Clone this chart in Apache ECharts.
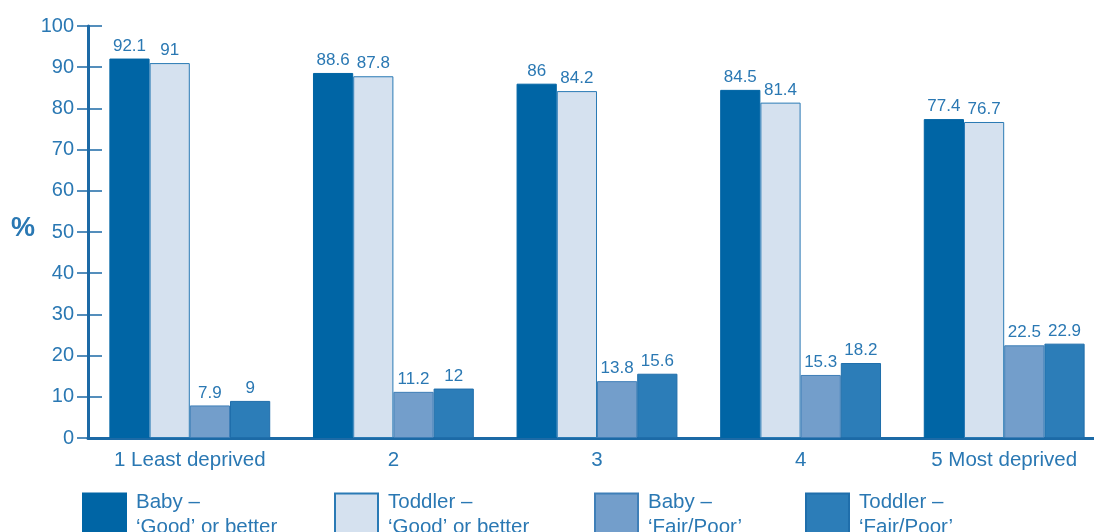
<!DOCTYPE html>
<html>
<head>
<meta charset="utf-8">
<script src="https://cdn.jsdelivr.net/npm/echarts@6/dist/echarts.min.js"></script>
<style>
html, body { margin: 0; padding: 0; background: #fff; }
#main { width: 1094px; height: 532px; }
</style>
</head>
<body>
<div id="main"></div>
<script>
var categories = ['1 Least deprived', '2', '3', '4', '5 Most deprived'];
var babyGood = [92.1, 88.6, 86, 84.5, 77.4];
var toddlerGood = [91, 87.8, 84.2, 81.4, 76.7];
var babyFair = [7.9, 11.2, 13.8, 15.3, 22.5];
var toddlerFair = [9, 12, 15.6, 18.2, 22.9];
var seriesNames = ['Baby –\n‘Good’ or better', 'Toddler –\n‘Good’ or better', 'Baby –\n‘Fair/Poor’', 'Toddler –\n‘Fair/Poor’'];

var txt = '#2a78b3';
var axisCol = '#1c6aa6';
var font = 'Liberation Sans, Arial, sans-serif';

var myChart = echarts.init(document.getElementById('main'));

function bar(name, data, fill, border) {
    return {
        name: name,
        type: 'bar',
        data: data,
        barGap: '0%',
        barCategoryGap: '21%',
        itemStyle: { color: fill, borderColor: border, borderWidth: 1 },
        label: {
            show: true,
            position: 'top',
            distance: 4,
            color: txt,
            fontSize: 17,
            fontFamily: font
        }
    };
}

function legendAt(name, left) {
    return {
        data: [name],
        left: left,
        top: 490,
        padding: 0,
        itemWidth: 43,
        itemHeight: 43,
        itemGap: 0,
        selectedMode: false,
        textStyle: { color: txt, fontSize: 20.5, fontFamily: font, lineHeight: 25, padding: [0, 0, 0, 5] },
        icon: 'rect'
    };
}

myChart.setOption({
    animation: false,
    grid: { left: 88, top: 26, width: 1018, bottom: 94, outerBoundsMode: 'none' },
    legend: [
        legendAt(seriesNames[0], 82),
        legendAt(seriesNames[1], 334),
        legendAt(seriesNames[2], 594),
        legendAt(seriesNames[3], 805)
    ],
    graphic: [{
        type: 'text',
        left: 11,
        top: 215,
        style: { text: '%', fill: txt, fontSize: 27, fontWeight: 'bold', fontFamily: font }
    }],
    xAxis: {
        type: 'category',
        data: categories,
        axisLine: { lineStyle: { color: axisCol, width: 3 } },
        axisTick: { inside: true, length: 12, lineStyle: { color: axisCol, width: 1.5 } },
        axisLabel: { color: txt, fontSize: 20.5, fontFamily: font, margin: 12 }
    },
    yAxis: [{
        type: 'value',
        min: 0,
        max: 100,
        interval: 10,
        axisLine: { show: true, lineStyle: { color: axisCol, width: 3 } },
        axisTick: { show: true, length: 11, lineStyle: { color: axisCol, width: 1.5 } },
        axisLabel: { color: txt, fontSize: 20, fontFamily: font, margin: 14 },
        splitLine: { show: false }
    }, {
        type: 'value',
        position: 'left',
        min: 0,
        max: 100,
        interval: 10,
        axisLine: { show: false },
        axisTick: { show: true, inside: true, length: 14, lineStyle: { color: axisCol, width: 1.5 } },
        axisLabel: { show: false },
        splitLine: { show: false }
    }],
    series: [
        bar(seriesNames[0], babyGood, '#0065a5', '#0065a5'),
        bar(seriesNames[1], toddlerGood, '#d5e1ef', '#2a7ab5'),
        bar(seriesNames[2], babyFair, '#739ecb', '#3f7fb8'),
        bar(seriesNames[3], toddlerFair, '#2c7db8', '#1f6eab')
    ]
});
</script>
</body>
</html>
